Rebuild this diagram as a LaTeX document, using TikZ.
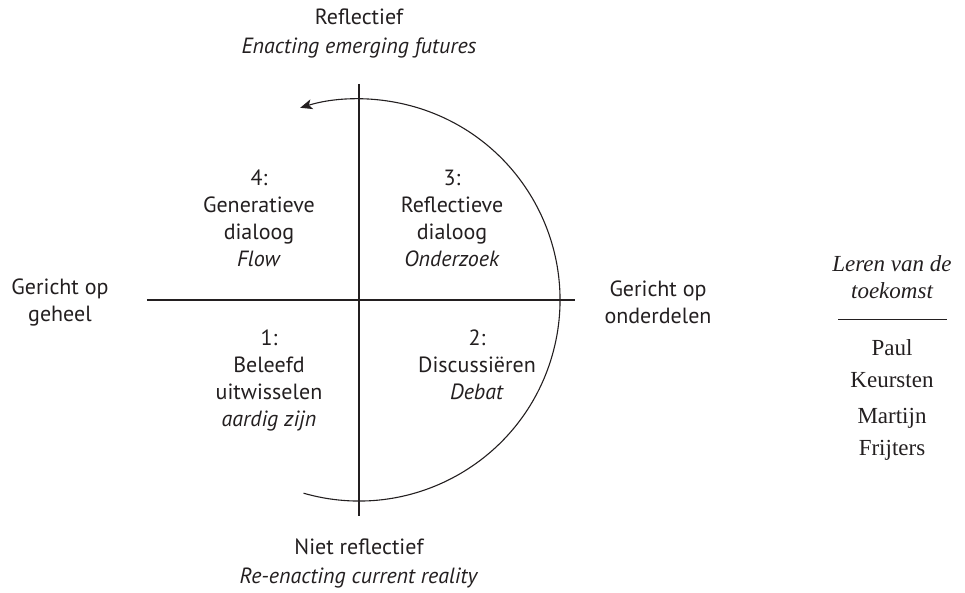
\documentclass[tikz,border=0pt]{standalone}
\usepackage{fontspec}
\setmainfont{Liberation Serif}
\newfontfamily\quadfont{PT Sans}
\usetikzlibrary{arrows.meta, positioning}
\definecolor{inkcolor}{HTML}{231F20}

\begin{document}
\begin{tikzpicture}[x=1pt, y=1pt,
    lbl/.style={font=\quadfont\fontsize{22}{27}\selectfont, align=center,
                inner sep=0pt, text=inkcolor},
    book/.style={font=\fontsize{23}{32}\selectfont, align=center,
                 inner sep=0pt, text=inkcolor},
    axis/.style={draw=inkcolor, line width=1.1pt},
    arr/.style={-{Stealth[length=12pt, width=10pt, inset=3pt]},
                draw=inkcolor, line width=1.1pt}
]
    \useasboundingbox (-359,-292) rectangle (606,300);

    % axes
    \coordinate (top) at (0,216);
    \coordinate (bottom) at (0,-216);
    \coordinate (left) at (-212,0);
    \coordinate (right) at (216,0);
    \draw[axis] (top) -- (bottom);
    \draw[axis] (left) -- (right);

    % half circle with arrow
    \coordinate (arcstart) at (-106:201);
    \draw[arr] (arcstart) arc[start angle=-106, end angle=107, radius=201];

    % quadrants
    \node[lbl] (q4) at (-100,82) {4:\\Generatieve\\dialoog\\\textit{Flow}};
    \node[lbl] (q3) at (93,82) {3:\\Reflectieve\\dialoog\\\textit{Onderzoek}};
    \node[lbl] (q1) at (-90,-80) {1:\\Beleefd\\uitwisselen\\\textit{aardig zijn}};
    \node[lbl] (q2) at (118,-65) {2:\\Discussi\"eren\\\textit{Debat}};

    % axis labels
    \node[lbl] (reflect) at (0,266) {Reflectief\\[2pt]\textit{Enacting emerging futures}};
    \node[lbl] (nonreflect) at (0,-263.5) {Niet reflectief\\[2pt]\textit{Re-enacting current reality}};
    \node[lbl] (whole) at (-299,-2) {Gericht op\\geheel};
    \node[lbl] (parts) at (299,-2) {Gericht op\\onderdelen};

    % book
    \node[book, font=\itshape\fontsize{23}{27}\selectfont] (title) at (533,22.5)
          {Leren van de\\toekomst};
    \coordinate (ruleL) at (479,-19);
    \coordinate (ruleR) at (588,-19);
    \draw[draw=inkcolor, line width=0.9pt] (ruleL) -- (ruleR);
    \node[book, below=20pt of title.south |- ruleL, anchor=north] (auth1) {Paul\\Keursten};
    \node[book, below=20pt of auth1] (auth2) {Martijn\\Frijters};
\end{tikzpicture}
\end{document}
